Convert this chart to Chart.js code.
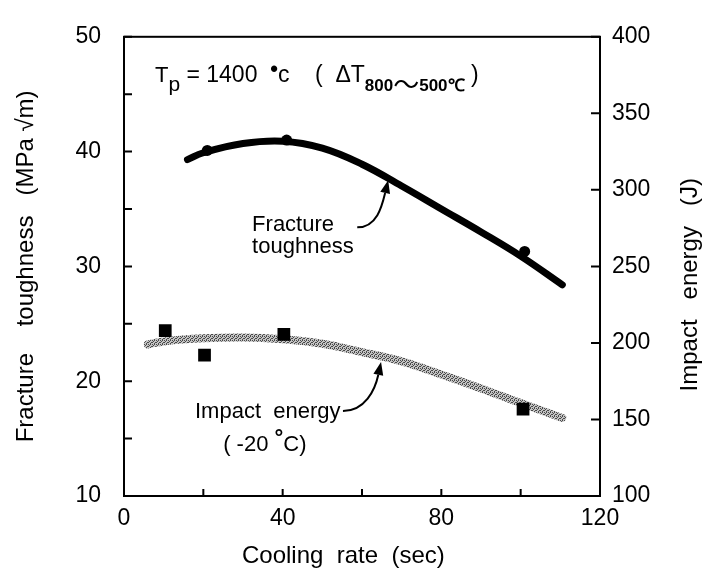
<!DOCTYPE html>
<html>
<head>
<meta charset="utf-8">
<script src="https://cdn.jsdelivr.net/npm/chart.js@4.4.0/dist/chart.umd.min.js"></script>
<style>
  html, body { margin: 0; padding: 0; background: #fff; }
</style>
</head>
<body>
<canvas id="chart" width="713" height="578"></canvas>
<script>
// ===== DATA =====

// Cooling rate (sec) for the fitted fracture toughness curve
const toughCurveX = [16, 20, 30, 40, 50, 60, 70, 80, 90, 100, 110.5];
const toughCurveY = [39.3, 39.9, 40.7, 40.9, 40.3, 38.9, 37.0, 35.0, 33.0, 30.9, 28.4];

// Measured fracture toughness points (MPa sqrt m)
const toughPointX = [21, 41, 101];
const toughPointY = [40.1, 41.0, 31.3];

// Fitted impact energy curve (J, right axis)
const impactCurveX = [6, 10, 20, 30, 40, 50, 60, 70, 80, 90, 100, 110.5];
const impactCurveY = [199, 201, 203, 203.6, 202.4, 199.5, 194, 188, 179.4, 170.3, 160.7, 151];

// Measured impact energy points (J)
const impactPointX = [10.4, 20.3, 40.3, 100.6];
const impactPointY = [208, 192, 205.6, 156.8];

// Axis ranges
const X_RANGE = [0, 120];
const LEFT_RANGE = [10, 50];
const RIGHT_RANGE = [100, 400];

const FONT = '"Liberation Sans", Arial, Helvetica, sans-serif';
const CJK = '"Noto Sans CJK JP", "DejaVu Sans", sans-serif';
Chart.defaults.font.family = FONT;
Chart.defaults.color = '#000';

function pts(xs, ys) {
  return xs.map((x, i) => ({ x, y: ys[i] }));
}

// Stippled grey stroke for the impact energy curve
function makeHatch() {
  const c = document.createElement('canvas');
  c.width = 4; c.height = 4;
  const g = c.getContext('2d');
  g.fillStyle = '#c4c4c4';
  g.fillRect(0, 0, 4, 4);
  g.fillStyle = '#4a4a4a';
  [[0, 0], [2, 0], [1, 1], [3, 2], [0, 2], [2, 3]].forEach(([a, b]) => g.fillRect(a, b, 1, 1));
  return g.createPattern(c, 'repeat');
}

// Curved arrow from a label to its curve
function drawArrow(ctx, tail, tip, c1, c2) {
  ctx.save();
  ctx.strokeStyle = '#000';
  ctx.fillStyle = '#000';
  ctx.lineWidth = 2;
  const ang = Math.atan2(tip.y - c2.y, tip.x - c2.x);
  const len = 13, half = 5;
  const bx = tip.x - len * Math.cos(ang), by = tip.y - len * Math.sin(ang);
  ctx.beginPath();
  ctx.moveTo(tail.x, tail.y);
  ctx.bezierCurveTo(c1.x, c1.y, c2.x, c2.y, bx, by);
  ctx.stroke();
  ctx.beginPath();
  ctx.moveTo(tip.x, tip.y);
  ctx.lineTo(bx + half * Math.sin(ang), by - half * Math.cos(ang));
  ctx.lineTo(bx - half * Math.sin(ang), by + half * Math.cos(ang));
  ctx.closePath();
  ctx.fill();
  ctx.restore();
}

// Text runs drawn one after another: [text, size, baseline shift, weight, family]
function drawRuns(ctx, x, y, runs) {
  runs.forEach(([t, size, dy, weight, fam]) => {
    ctx.font = (weight || 'normal') + ' ' + size + 'px ' + (fam || FONT);
    ctx.fillText(t, x, y + dy);
    x += ctx.measureText(t).width;
  });
}

// Inward ticks, box frame, axis titles and the text annotations
const framePlugin = {
  id: 'frame',
  afterDraw(chart) {
    const { ctx, chartArea: a, scales } = chart;
    const { x, y, yR } = scales;
    ctx.save();
    ctx.strokeStyle = '#000';
    ctx.lineWidth = 2;
    ctx.strokeRect(a.left, a.top, a.right - a.left, a.bottom - a.top);

    ctx.beginPath();
    y.ticks.forEach(t => {
      const p = y.getPixelForValue(t.value);
      ctx.moveTo(a.left, p); ctx.lineTo(a.left + 8, p);
    });
    yR.ticks.forEach(t => {
      const p = yR.getPixelForValue(t.value);
      ctx.moveTo(a.right, p); ctx.lineTo(a.right - 9, p);
    });
    x.ticks.forEach(t => {
      const p = x.getPixelForValue(t.value);
      ctx.moveTo(p, a.bottom); ctx.lineTo(p, a.bottom - 7);
    });
    ctx.stroke();

    ctx.fillStyle = '#000';

    // x axis title (sits a little left of centre in the original)
    ctx.textAlign = 'center';
    ctx.textBaseline = 'middle';
    ctx.font = '24px ' + FONT;
    ctx.fillText('Cooling  rate  (sec)', x.getPixelForValue(55.3), x.bottom - 22);

    // right axis title, reading bottom to top like the left one
    ctx.save();
    ctx.translate(yR.right - 23, yR.getPixelForValue(238));
    ctx.rotate(-Math.PI / 2);
    ctx.font = '24px ' + FONT;
    ctx.fillText('Impact   energy   (J)', 0, 0);
    ctx.restore();

    // heading
    ctx.textAlign = 'left';
    ctx.textBaseline = 'alphabetic';
    drawRuns(ctx, x.getPixelForValue(7.8), y.getPixelForValue(46.1), [
      ['T', 22, 0], ['p', 21, 9], [' = 1400  ', 23, 0], ['•', 22, -6, 'bold'],
      ['c    (  ', 23, 0], ['ΔT', 23, 0], ['800', 17, 9, 'bold'],
      ['〜', 26, 12, 'normal', CJK], ['500℃', 17, 9, 'bold'], [' )', 23, 0]
    ]);

    // Fracture toughness label and arrow
    ctx.font = '22px ' + FONT;
    const fx = x.getPixelForValue(32.3);
    ctx.fillText('Fracture', fx, y.getPixelForValue(33.1));
    ctx.fillText('toughness', fx, y.getPixelForValue(31.2));
    const fTail = { x: x.getPixelForValue(58.8), y: y.getPixelForValue(33.4) };
    const fTip = { x: x.getPixelForValue(66.6), y: y.getPixelForValue(37.5) };
    drawArrow(ctx, fTail, fTip,
      { x: fTail.x + 20, y: fTail.y }, { x: fTip.x - 6, y: fTip.y + 25 });

    // Impact energy label and arrow
    ctx.font = '22px ' + FONT;
    ctx.fillText('Impact  energy', x.getPixelForValue(17.9), yR.getPixelForValue(151));
    drawRuns(ctx, x.getPixelForValue(25), yR.getPixelForValue(129.3), [
      ['( -20 ', 22, 0], ['°', 22, -6, 'bold'], ['C)', 22, 0]
    ]);
    const iTail = { x: x.getPixelForValue(55.2), y: yR.getPixelForValue(155.5) };
    const iTip = { x: x.getPixelForValue(64.8), y: yR.getPixelForValue(187.5) };
    drawArrow(ctx, iTail, iTip,
      { x: iTail.x + 22, y: iTail.y }, { x: iTip.x - 6, y: iTip.y + 28 });
    ctx.restore();
  }
};

new Chart(document.getElementById('chart'), {
  type: 'line',
  data: {
    datasets: [
      {
        label: 'Impact energy points',
        data: pts(impactPointX, impactPointY),
        yAxisID: 'yR',
        showLine: false,
        pointStyle: 'rect',
        pointRadius: 9,
        backgroundColor: '#000',
        borderColor: '#000',
        borderWidth: 0
      },
      {
        label: 'Fracture toughness points',
        data: pts(toughPointX, toughPointY),
        yAxisID: 'y',
        showLine: false,
        pointStyle: 'circle',
        pointRadius: 5.5,
        backgroundColor: '#000',
        borderColor: '#000',
        borderWidth: 0
      },
      {
        label: 'Fracture toughness',
        data: pts(toughCurveX, toughCurveY),
        yAxisID: 'y',
        borderColor: '#000',
        borderWidth: 7,
        borderCapStyle: 'round',
        tension: 0.4,
        pointRadius: 0
      },
      {
        label: 'Impact energy',
        data: pts(impactCurveX, impactCurveY),
        yAxisID: 'yR',
        borderColor: makeHatch(),
        borderWidth: 8,
        borderCapStyle: 'round',
        tension: 0.4,
        pointRadius: 0
      }
    ]
  },
  options: {
    responsive: false,
    animation: false,
    layout: { padding: { top: 20, left: 0, right: 0, bottom: 0 } },
    plugins: { legend: { display: false }, tooltip: { enabled: false } },
    scales: {
      x: {
        type: 'linear',
        min: X_RANGE[0], max: X_RANGE[1],
        afterFit: s => { s.height = 82; },
        grid: { drawOnChartArea: false, drawTicks: false },
        border: { display: true, color: '#000', width: 2 },
        ticks: {
          stepSize: 20,
          padding: 9,
          font: { size: 23 },
          color: '#000',
          callback: v => (v % 40 === 0 ? v : '')
        },
        title: { display: false }
      },
      y: {
        position: 'left',
        min: LEFT_RANGE[0], max: LEFT_RANGE[1],
        afterFit: s => { s.width = 124; },
        grid: { drawOnChartArea: false, drawTicks: false },
        border: { display: true, color: '#000', width: 2 },
        ticks: {
          stepSize: 5,
          padding: 23,
          font: { size: 23 },
          color: '#000',
          callback: v => (v % 10 === 0 ? v : '')
        },
        title: {
          display: true,
          text: 'Fracture    toughness   (MPa √m)',
          font: { size: 24 },
          color: '#000',
          padding: { top: 12, bottom: 0 }
        }
      },
      yR: {
        position: 'right',
        min: RIGHT_RANGE[0], max: RIGHT_RANGE[1],
        afterFit: s => { s.width = 113; },
        grid: { drawOnChartArea: false, drawTicks: false },
        border: { display: true, color: '#000', width: 2 },
        ticks: {
          stepSize: 50,
          padding: 12,
          font: { size: 23 },
          color: '#000'
        },
        title: { display: false }
      }
    }
  },
  plugins: [framePlugin]
});
</script>
</body>
</html>
